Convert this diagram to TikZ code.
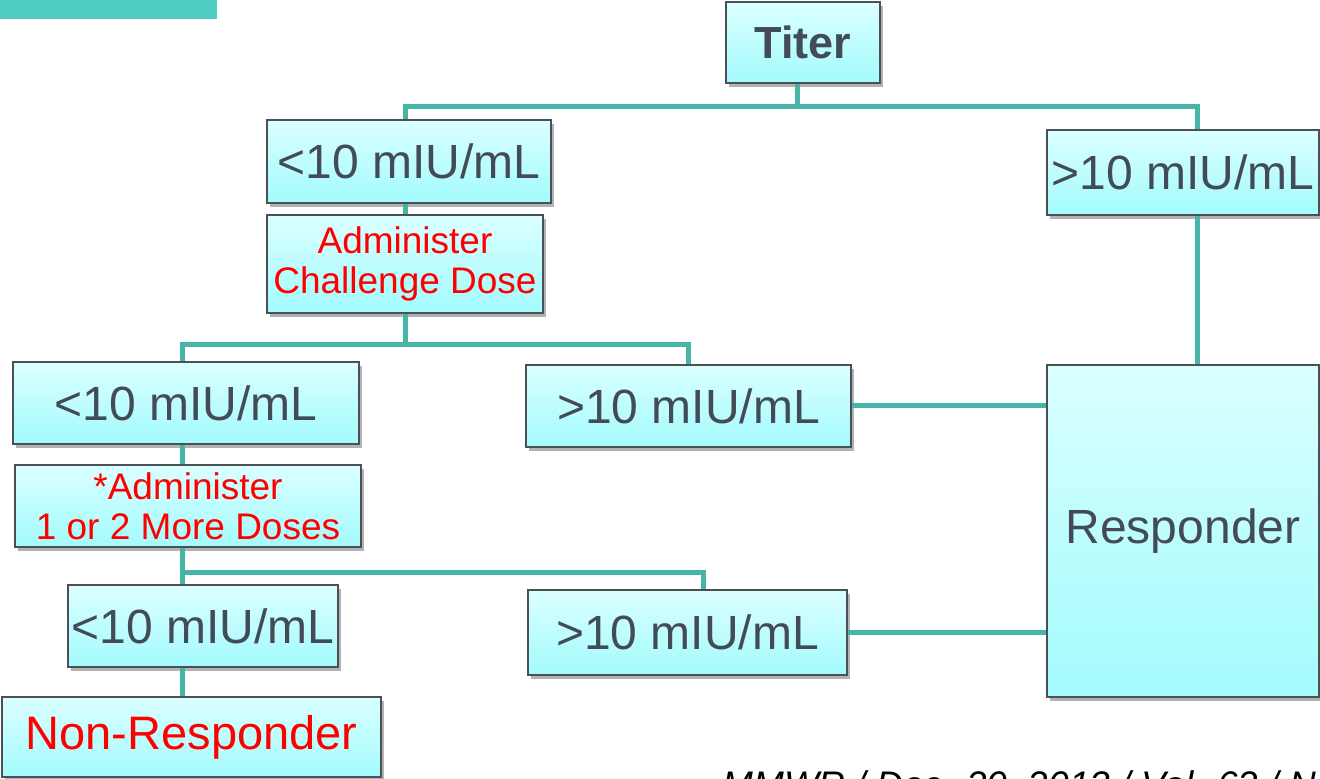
\documentclass[tikz,border=0pt]{standalone}
\usepackage{fontspec}
\setmainfont{Liberation Sans}
\usetikzlibrary{shadows}

\definecolor{boxtop}{HTML}{DBFFFF}
\definecolor{boxbot}{HTML}{A3FBFD}
\definecolor{boxline}{HTML}{4B5057}
\definecolor{linkteal}{HTML}{47B4A8}
\definecolor{topbar}{HTML}{50CEC4}
\definecolor{txt}{HTML}{434B57}

\tikzset{
  box/.style={draw=boxline, line width=1pt, top color=boxtop, bottom color=boxbot,
    inner sep=0pt, align=center, text=txt, font=\fontsize{24}{28}\selectfont,
    drop shadow={shadow xshift=1.5pt, shadow yshift=-2pt, opacity=0.3, fill=black}},
  redtxt/.style={text=red},
  link/.style={draw=linkteal, line width=2.5pt}
}

\begin{document}
\begin{tikzpicture}[x=0.5pt, y=-0.5pt]
  \useasboundingbox (0,0) rectangle (1320,779);
  \clip (0,0) rectangle (1320,779);

  % Header bar
  \fill[topbar] (0,0) rectangle (217,19);

  % Boxes
  \node[box, minimum width=77pt, minimum height=40.5pt, font=\fontsize{22.5}{26}\selectfont\bfseries] (titer) at (803,42.5) {Titer};
  \node[box, minimum width=142pt, minimum height=41.5pt] (lowA) at (409,161.5) {<10 mIU/mL};
  \node[box, minimum width=136pt, minimum height=42.5pt] (highA) at (1183,172.5) {>10 mIU/mL};
  \node[box, redtxt, minimum width=138pt, minimum height=49pt, font=\fontsize{18.5}{20}\selectfont] (chal) at (405,264) {Administer\\Challenge Dose};
  \node[box, minimum width=173pt, minimum height=41pt] (lowB) at (186,403) {<10 mIU/mL};
  \node[box, minimum width=162.5pt, minimum height=41pt] (highB) at (688.5,406) {>10 mIU/mL};
  \node[box, minimum width=136pt, minimum height=166pt] (resp) at (1183,531) {Responder};
  \node[box, redtxt, minimum width=173pt, minimum height=41pt, font=\fontsize{18.5}{20}\selectfont] (more) at (188,506) {*Administer\\1 or 2 More Doses};
  \node[box, minimum width=135pt, minimum height=41pt] (lowC) at (203,626) {<10 mIU/mL};
  \node[box, minimum width=159.5pt, minimum height=42.5pt] (highC) at (687.5,632.5) {>10 mIU/mL};
  \node[box, redtxt, minimum width=189.5pt, minimum height=40pt, font=\fontsize{23.5}{26}\selectfont] (nonresp) at (191.5,737) {Non-Responder};

  % Split points
  \coordinate (s1) at (797,107);
  \coordinate (s2) at (405,345);
  \coordinate (s3) at (182,572);
  \coordinate (spine) at (182,0);

  % Connectors
  \draw[link] (titer.south -| s1) -- (s1);
  \draw[link] (lowA.north -| s2) |- (s1) -| ([xshift=7pt]highA.north);
  \draw[link] (lowA.south -| s2) -- (chal.north -| s2);
  \draw[link] (chal.south -| s2) -- (s2);
  \draw[link] (lowB.north -| spine) |- (s2) -| (highB.north);
  \draw[link] (lowB.south -| spine) -- (more.north -| spine);
  \draw[link] (more.south -| spine) -- (s3);
  \draw[link] (lowC.north -| spine) -- (s3) -| ([xshift=8pt]highC.north);
  \draw[link] (lowC.south -| spine) -- (nonresp.north -| spine);
  \draw[link] ([xshift=7pt]highA.south) -- ([xshift=7pt]resp.north);
  \draw[link] (highB.east) -- (highB.east -| resp.west);
  \draw[link] (highC.east) -- (highC.east -| resp.west);

  % Source line, cut by the page edge
  \node[anchor=base west, inner sep=0pt, font=\fontsize{18.5}{20}\selectfont\itshape] (src) at (722,797) {MMWR / Dec. 20, 2013 / Vol. 62 / No. 10};
\end{tikzpicture}
\end{document}
